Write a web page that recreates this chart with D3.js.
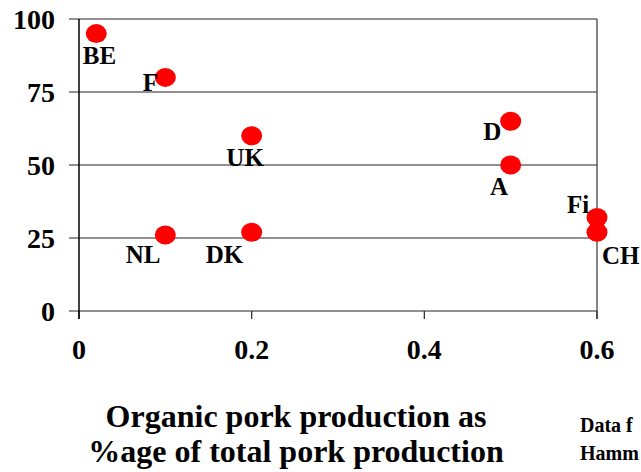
<!DOCTYPE html>
<html>
<head>
<meta charset="utf-8">
<script src="https://cdn.jsdelivr.net/npm/d3@7"></script>
<style>
html, body { margin: 0; padding: 0; background: #fff; }
svg { display: block; }
text { font-family: "Liberation Serif", "Times New Roman", serif; font-weight: bold; fill: #000; }
</style>
</head>
<body>
<svg id="chart" width="641" height="472"></svg>
<script>
// Data
const countries = ["BE", "F", "UK", "NL", "DK", "D", "A", "Fi", "CH"];
const organicShare = [0.02, 0.1, 0.2, 0.1, 0.2, 0.5, 0.5, 0.6, 0.6];
const yValues = [95, 80, 60, 26, 27, 65, 50, 32, 27];
const xTicks = [0, 0.2, 0.4, 0.6];
const xTickLabels = ["0", "0.2", "0.4", "0.6"];
const yTicks = [0, 25, 50, 75, 100];
const yTickLabels = ["0", "25", "50", "75", "100"];
const titleLines = ["Organic pork production as", "%age of total pork production"];
const sourceLines = ["Data f", "Hamm"];

// Label offsets relative to each point (styling, not data)
const labelOffsets = [[-13.5, 30.5], [-22.7, 13.3], [-25.3, 30], [-39.7, 28.4], [-46, 31.2], [-27.4, 18.6], [-20.7, 30], [-30, -5], [5, 31.8]];

const svg = d3.select("#chart");
const pLeft = 79, pRight = 597, pTop = 19, pBottom = 311;
const x = d3.scaleLinear().domain([0, 0.6]).range([pLeft, pRight]);
const y = d3.scaleLinear().domain([0, 100]).range([pBottom, pTop]);

// Gridlines
const gridColor = "#6b6b6b";
svg.append("g").selectAll("line").data(yTicks).join("line")
  .attr("x1", pLeft - 10).attr("x2", pRight)
  .attr("y1", d => y(d)).attr("y2", d => y(d))
  .attr("stroke", gridColor).attr("stroke-width", 1.3);

// Right border
svg.append("line").attr("x1", pRight).attr("x2", pRight).attr("y1", pTop).attr("y2", pBottom + 8)
  .attr("stroke", "#444").attr("stroke-width", 1.3);

// x axis tick marks
svg.append("g").selectAll("line").data(xTicks).join("line")
  .attr("x1", d => x(d)).attr("x2", d => x(d))
  .attr("y1", pBottom).attr("y2", pBottom + 8)
  .attr("stroke", "#333").attr("stroke-width", 1.3);

// y axis line
svg.append("line").attr("x1", pLeft).attr("x2", pLeft).attr("y1", pTop).attr("y2", pBottom + 8)
  .attr("stroke", "#000").attr("stroke-width", 1.5);

// Tick labels
svg.append("g").selectAll("text").data(yTicks).join("text")
  .attr("x", 55).attr("y", d => y(d) + 10)
  .attr("text-anchor", "end").attr("font-size", 28)
  .text((d, i) => yTickLabels[i]);

svg.append("g").selectAll("text").data(xTicks).join("text")
  .attr("x", d => x(d)).attr("y", 359)
  .attr("text-anchor", "middle").attr("font-size", 28)
  .text((d, i) => xTickLabels[i]);

// Points
const pts = countries.map((c, i) => ({ c, x: organicShare[i], y: yValues[i], off: labelOffsets[i] }));
svg.append("g").selectAll("ellipse").data(pts).join("ellipse")
  .attr("cx", d => x(d.x)).attr("cy", d => y(d.y))
  .attr("rx", 10.5).attr("ry", 9.5)
  .attr("fill", "#ff0000");

// Point labels
svg.append("g").selectAll("text").data(pts).join("text")
  .attr("x", d => x(d.x) + d.off[0]).attr("y", d => y(d.y) + d.off[1])
  .attr("font-size", 25)
  .text(d => d.c);

// Axis title
svg.append("g").selectAll("text").data(titleLines).join("text")
  .attr("x", 296).attr("y", (d, i) => 427 + i * 35)
  .attr("text-anchor", "middle").attr("font-size", 32)
  .text(d => d);

// Source note (visible part, as in the reference)
svg.append("g").selectAll("text").data(sourceLines).join("text")
  .attr("x", 580).attr("y", (d, i) => 432 + i * 28)
  .attr("font-size", 20)
  .text(d => d);
</script>
</body>
</html>
